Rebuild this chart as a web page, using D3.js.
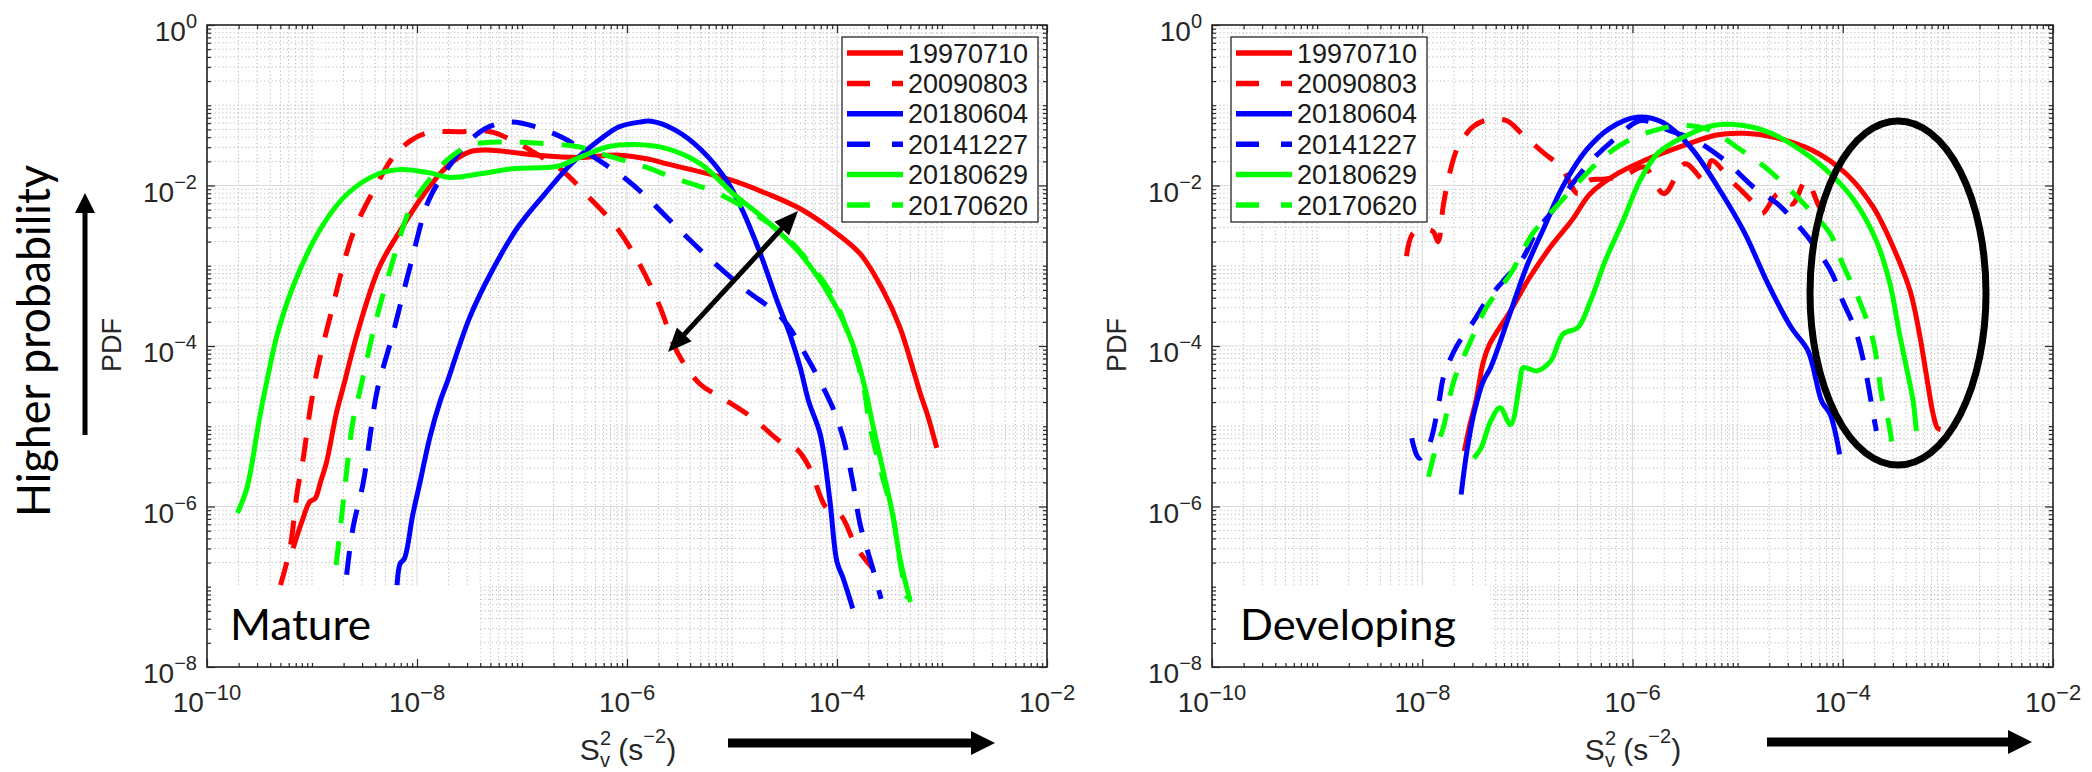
<!DOCTYPE html>
<html><head><meta charset="utf-8">
<script src="https://cdn.jsdelivr.net/npm/d3@7"></script>
<style>body{margin:0;background:#fff}svg{display:block}</style>
</head><body>
<svg id="c" width="2092" height="772"></svg>
<script>
// ---------------- data ----------------
const seriesNames  = ["19970710","20090803","20180604","20141227","20180629","20170620"];
const seriesColors = ["#ff0000","#ff0000","#0000ff","#0000ff","#00ff00","#00ff00"];
const seriesDashed = [false,true,false,true,false,true];
const xTickExps = [-10,-8,-6,-4,-2];
const yTickExps = [0,-2,-4,-6,-8];
const panelLabels = ["Mature","Developing"];
// points are [log10(S_v^2), log10(PDF)]
const mature19970710 = [[-9.18,-6.52],[-9.10,-6.20],[-9.02,-5.94],[-8.97,-5.90],[-8.92,-5.70],[-8.86,-5.44],[-8.77,-4.85],[-8.70,-4.50],[-8.57,-3.85],[-8.36,-3.02],[-8.14,-2.52],[-7.93,-2.10],[-7.72,-1.77],[-7.50,-1.58],[-7.30,-1.56],[-6.87,-1.62],[-6.45,-1.65],[-6.10,-1.62],[-5.80,-1.67],[-5.62,-1.73],[-5.30,-1.83],[-4.99,-1.94],[-4.67,-2.10],[-4.35,-2.29],[-4.04,-2.56],[-3.78,-2.85],[-3.56,-3.31],[-3.40,-3.77],[-3.28,-4.27],[-3.20,-4.62],[-3.14,-4.85],[-3.05,-5.27]];
const mature20090803 = [[-9.30,-6.98],[-9.21,-6.52],[-9.14,-5.81],[-9.08,-5.37],[-9.02,-4.81],[-8.95,-4.30],[-8.83,-3.65],[-8.61,-2.60],[-8.40,-2.03],[-8.23,-1.65],[-8.06,-1.44],[-7.89,-1.34],[-7.60,-1.33],[-7.30,-1.33],[-7.09,-1.44],[-6.87,-1.60],[-6.62,-1.81],[-6.36,-2.15],[-6.10,-2.52],[-5.88,-2.98],[-5.69,-3.50],[-5.52,-4.08],[-5.30,-4.48],[-5.09,-4.65],[-4.80,-4.90],[-4.54,-5.19],[-4.38,-5.29],[-4.26,-5.52],[-4.10,-6.02],[-3.97,-6.10],[-3.81,-6.52],[-3.66,-6.77]];
const mature20180604 = [[-8.19,-6.98],[-8.16,-6.71],[-8.12,-6.65],[-8.04,-6.10],[-7.97,-5.69],[-7.88,-5.15],[-7.78,-4.69],[-7.71,-4.44],[-7.50,-3.65],[-7.30,-3.10],[-7.04,-2.52],[-6.78,-2.10],[-6.53,-1.73],[-6.27,-1.44],[-6.08,-1.27],[-5.88,-1.21],[-5.77,-1.20],[-5.54,-1.31],[-5.29,-1.56],[-5.05,-1.94],[-4.90,-2.31],[-4.73,-2.85],[-4.57,-3.44],[-4.45,-3.85],[-4.35,-4.27],[-4.27,-4.69],[-4.16,-5.10],[-4.07,-5.90],[-4.00,-6.69],[-3.94,-6.90],[-3.85,-7.27]];
const mature20141227 = [[-8.67,-6.85],[-8.61,-6.27],[-8.51,-5.69],[-8.45,-5.15],[-8.38,-4.56],[-8.23,-3.85],[-8.06,-2.98],[-7.89,-2.19],[-7.72,-1.81],[-7.50,-1.44],[-7.30,-1.26],[-7.09,-1.21],[-6.87,-1.27],[-6.62,-1.40],[-6.31,-1.65],[-5.99,-1.94],[-5.81,-2.15],[-5.51,-2.54],[-5.19,-2.94],[-4.88,-3.29],[-4.52,-3.66],[-4.29,-4.13],[-4.10,-4.60],[-4.04,-4.77],[-3.94,-5.15],[-3.85,-5.69],[-3.78,-6.22],[-3.66,-6.77],[-3.58,-7.15]];
const mature20180629 = [[-9.71,-6.08],[-9.62,-5.77],[-9.50,-4.90],[-9.43,-4.44],[-9.33,-3.85],[-9.16,-3.19],[-8.91,-2.52],[-8.66,-2.10],[-8.36,-1.85],[-8.14,-1.80],[-7.89,-1.84],[-7.68,-1.90],[-7.38,-1.85],[-7.09,-1.79],[-6.66,-1.76],[-6.45,-1.65],[-6.19,-1.52],[-5.93,-1.49],[-5.62,-1.54],[-5.30,-1.73],[-4.99,-2.10],[-4.67,-2.44],[-4.35,-2.85],[-4.04,-3.44],[-3.85,-3.98],[-3.72,-4.60],[-3.66,-4.98],[-3.56,-5.56],[-3.47,-6.10],[-3.40,-6.65],[-3.30,-7.19]];
const mature20170620 = [[-8.77,-6.73],[-8.72,-6.15],[-8.67,-5.56],[-8.61,-4.94],[-8.53,-4.48],[-8.40,-3.73],[-8.23,-2.94],[-8.06,-2.27],[-7.89,-1.94],[-7.72,-1.69],[-7.50,-1.50],[-7.30,-1.46],[-7.09,-1.46],[-6.87,-1.47],[-6.45,-1.52],[-6.26,-1.60],[-5.78,-1.79],[-5.57,-1.90],[-5.38,-1.98],[-5.18,-2.07],[-4.85,-2.30],[-4.52,-2.60],[-4.29,-2.92],[-4.04,-3.38],[-3.88,-3.90],[-3.75,-4.48],[-3.69,-4.98],[-3.59,-5.52],[-3.47,-6.10],[-3.40,-6.69],[-3.33,-7.15]];

const developing19970710 = [[-7.60,-5.31],[-7.55,-5.00],[-7.49,-4.69],[-7.42,-4.20],[-7.36,-3.98],[-7.16,-3.56],[-6.98,-3.15],[-6.76,-2.73],[-6.58,-2.44],[-6.40,-2.10],[-6.14,-1.85],[-5.89,-1.69],[-5.55,-1.52],[-5.20,-1.37],[-4.93,-1.35],[-4.65,-1.40],[-4.29,-1.56],[-3.97,-1.85],[-3.71,-2.27],[-3.52,-2.77],[-3.36,-3.31],[-3.27,-3.85],[-3.20,-4.40],[-3.14,-4.85],[-3.10,-5.02],[-3.07,-5.04]];
const developing20090803 = [[-8.15,-2.88],[-8.09,-2.60],[-8.00,-2.55],[-7.90,-2.57],[-7.85,-2.70],[-7.80,-2.25],[-7.74,-1.85],[-7.66,-1.52],[-7.52,-1.27],[-7.40,-1.19],[-7.20,-1.19],[-7.05,-1.36],[-6.84,-1.60],[-6.68,-1.77],[-6.52,-2.10],[-6.42,-1.94],[-6.26,-1.92],[-6.08,-1.88],[-5.89,-1.77],[-5.70,-2.10],[-5.50,-1.73],[-5.31,-1.94],[-5.25,-1.69],[-5.06,-1.94],[-4.87,-2.19],[-4.77,-2.35],[-4.61,-2.10],[-4.48,-2.23],[-4.35,-1.94],[-4.22,-2.27],[-4.12,-2.44]];
const developing20180604 = [[-7.63,-5.85],[-7.58,-5.35],[-7.51,-4.85],[-7.42,-4.44],[-7.35,-4.27],[-7.18,-3.65],[-7.01,-3.02],[-6.84,-2.52],[-6.67,-2.03],[-6.44,-1.56],[-6.22,-1.29],[-5.96,-1.15],[-5.72,-1.21],[-5.45,-1.52],[-5.15,-2.10],[-4.93,-2.60],[-4.71,-3.23],[-4.49,-3.77],[-4.33,-4.06],[-4.20,-4.69],[-4.12,-4.85],[-4.03,-5.35]];
const developing20141227 = [[-8.10,-5.15],[-8.03,-5.40],[-7.94,-5.25],[-7.84,-4.69],[-7.80,-4.40],[-7.68,-4.02],[-7.51,-3.69],[-7.39,-3.44],[-7.23,-3.19],[-7.04,-2.90],[-6.91,-2.56],[-6.78,-2.35],[-6.62,-2.06],[-6.39,-1.69],[-6.15,-1.40],[-5.92,-1.19],[-5.66,-1.31],[-5.40,-1.44],[-5.12,-1.69],[-4.84,-2.03],[-4.62,-2.23],[-4.41,-2.52],[-4.26,-2.77],[-4.10,-3.10],[-4.00,-3.44],[-3.90,-3.73],[-3.84,-3.98],[-3.77,-4.40],[-3.71,-4.85],[-3.68,-5.06]];
const developing20180629 = [[-7.51,-5.40],[-7.44,-5.27],[-7.35,-4.94],[-7.26,-4.77],[-7.16,-4.98],[-7.07,-4.44],[-7.04,-4.27],[-6.91,-4.31],[-6.78,-4.19],[-6.66,-3.85],[-6.52,-3.77],[-6.40,-3.44],[-6.26,-2.94],[-6.09,-2.44],[-5.93,-1.94],[-5.76,-1.60],[-5.52,-1.40],[-5.22,-1.25],[-4.96,-1.25],[-4.68,-1.35],[-4.40,-1.56],[-4.12,-1.85],[-3.89,-2.19],[-3.68,-2.69],[-3.55,-3.23],[-3.46,-3.85],[-3.36,-4.48],[-3.33,-4.69],[-3.30,-5.06]];
const developing20170620 = [[-7.94,-5.63],[-7.87,-5.27],[-7.80,-5.02],[-7.70,-4.44],[-7.54,-3.94],[-7.39,-3.52],[-7.16,-3.10],[-6.95,-2.60],[-6.73,-2.27],[-6.50,-1.94],[-6.28,-1.65],[-6.04,-1.44],[-5.78,-1.31],[-5.52,-1.25],[-5.26,-1.31],[-5.01,-1.52],[-4.74,-1.77],[-4.53,-2.02],[-4.31,-2.31],[-4.12,-2.60],[-4.00,-2.98],[-3.84,-3.44],[-3.71,-3.94],[-3.62,-4.69],[-3.58,-4.85],[-3.52,-5.31]];

const panelSeries = [
  [mature19970710, mature20090803, mature20180604, mature20141227, mature20180629, mature20170620],
  [developing19970710, developing20090803, developing20180604, developing20141227, developing20180629, developing20170620]
];

// ---------------- layout ----------------
const svg = d3.select("#c");
const yTop = 25, yBot = 667;
const panels = [
  {x0:207, x1:1047, legendX:842, pdfX:121, boxR:480, labelX:230, labelLen:141, sLabel:628},
  {x0:1212, x1:2053, legendX:1231, pdfX:1126, boxR:1490, labelX:1240, labelLen:216, sLabel:1633}
];
const axisColor = "#262626";
const tickFont = "'Liberation Sans', Arial, Helvetica, sans-serif";
const calloutFont = "Lato, 'Open Sans', sans-serif";

const defs = svg.append("defs");

function minorValues(e0, e1, majors) {
  const out = [];
  for (let n = e0; n < e1; n++) for (let k = 1; k <= 9; k++) {
    if (k === 1 && majors.includes(n)) continue;
    out.push(k * Math.pow(10, n));
  }
  return out;
}

panels.forEach((p, pi) => {
  const x = d3.scaleLog().domain([1e-10, 1e-2]).range([p.x0, p.x1]);
  const y = d3.scaleLog().domain([1e-8, 1]).range([yBot, yTop]);
  const g = svg.append("g");
  const xMaj = xTickExps.map(e => Math.pow(10, e));
  const yMaj = yTickExps.map(e => Math.pow(10, e));
  const xMin = minorValues(-10, -2, xTickExps);
  const yMin = minorValues(-8, 0, yTickExps);

  // minor grid
  g.append("g").selectAll("line").data(xMin).join("line")
    .attr("x1", d => x(d)).attr("x2", d => x(d)).attr("y1", yTop).attr("y2", yBot)
    .attr("stroke", "#b8b8b8").attr("stroke-width", 1).attr("stroke-dasharray", "1.2,2.6");
  g.append("g").selectAll("line").data(yMin).join("line")
    .attr("y1", d => y(d)).attr("y2", d => y(d)).attr("x1", p.x0).attr("x2", p.x1)
    .attr("stroke", "#b8b8b8").attr("stroke-width", 1).attr("stroke-dasharray", "1.2,2.6");
  // major grid
  g.append("g").selectAll("line").data(xMaj).join("line")
    .attr("x1", d => x(d)).attr("x2", d => x(d)).attr("y1", yTop).attr("y2", yBot)
    .attr("stroke", "#dcdcdc").attr("stroke-width", 1.2);
  g.append("g").selectAll("line").data(yMaj).join("line")
    .attr("y1", d => y(d)).attr("y2", d => y(d)).attr("x1", p.x0).attr("x2", p.x1)
    .attr("stroke", "#dcdcdc").attr("stroke-width", 1.2);

  // white label box
  g.append("rect").attr("x", p.x0 + 1).attr("y", 585).attr("width", p.boxR - p.x0 - 1).attr("height", yBot - 585 - 1)
    .attr("fill", "#fff");

  // curves
  const clipId = "clip" + pi;
  defs.append("clipPath").attr("id", clipId).append("rect")
    .attr("x", p.x0).attr("y", yTop).attr("width", p.x1 - p.x0).attr("height", yBot - yTop);
  const line = d3.line().x(d => x(Math.pow(10, d[0]))).y(d => y(Math.pow(10, d[1])))
    .curve(d3.curveCatmullRom.alpha(0.5));
  const cg = g.append("g").attr("clip-path", `url(#${clipId})`);
  panelSeries[pi].forEach((s, i) => {
    cg.append("path").attr("d", line(s)).attr("fill", "none")
      .attr("stroke", seriesColors[i]).attr("stroke-width", 5)
      .attr("stroke-linejoin", "round")
      .attr("stroke-dasharray", seriesDashed[i] ? "24,18" : null);
  });

  // axes: ticks inward on all four sides
  const mk = (axisFn, scale, vals, size, tr) => {
    const a = g.append("g").attr("transform", tr)
      .call(axisFn(scale).tickValues(vals).tickSize(size).tickFormat(""));
    a.select(".domain").remove();
    a.selectAll("line").attr("stroke", axisColor).attr("stroke-width", 1.2);
  };
  mk(d3.axisBottom, x, xMaj, -8, `translate(0,${yBot})`);
  mk(d3.axisBottom, x, xMin, -4, `translate(0,${yBot})`);
  mk(d3.axisTop, x, xMaj, -8, `translate(0,${yTop})`);
  mk(d3.axisTop, x, xMin, -4, `translate(0,${yTop})`);
  mk(d3.axisLeft, y, yMaj, -8, `translate(${p.x0},0)`);
  mk(d3.axisLeft, y, yMin, -4, `translate(${p.x0},0)`);
  mk(d3.axisRight, y, yMaj, -8, `translate(${p.x1},0)`);
  mk(d3.axisRight, y, yMin, -4, `translate(${p.x1},0)`);
  g.append("rect").attr("x", p.x0).attr("y", yTop).attr("width", p.x1 - p.x0).attr("height", yBot - yTop)
    .attr("fill", "none").attr("stroke", axisColor).attr("stroke-width", 1.6);

  // tick labels
  const fmtExp = e => (e < 0 ? "\u2212" + (-e) : String(e));
  yTickExps.forEach(e => {
    const t = g.append("text").attr("x", p.x0 - 10).attr("y", y(Math.pow(10, e)) + 16)
      .attr("text-anchor", "end").attr("font-family", tickFont).attr("font-size", 28).attr("fill", axisColor);
    t.append("tspan").text("10");
    t.append("tspan").attr("font-size", 20).attr("dy", -13).text(fmtExp(e));
  });
  xTickExps.forEach(e => {
    const t = g.append("text").attr("x", x(Math.pow(10, e))).attr("y", 712)
      .attr("text-anchor", "middle").attr("font-family", tickFont).attr("font-size", 28).attr("fill", axisColor);
    t.append("tspan").text("10");
    t.append("tspan").attr("font-size", 22).attr("dy", -12).text(fmtExp(e));
  });

  // axis titles
  g.append("text").attr("transform", `translate(${p.pdfX},345) rotate(-90)`)
    .attr("text-anchor", "middle").attr("font-family", tickFont).attr("font-size", 27)
    .attr("fill", axisColor).text("PDF");
  const xl = g.append("text").attr("x", 0).attr("y", 760)
    .attr("font-family", tickFont).attr("font-size", 30).attr("fill", axisColor);
  xl.append("tspan").text("S");
  xl.append("tspan").attr("font-size", 20).attr("dy", -15).text("2");
  xl.append("tspan").attr("font-size", 20).attr("dx", -11).attr("dy", 22).text("v");
  xl.append("tspan").attr("dy", -7).text(" (s");
  xl.append("tspan").attr("font-size", 20).attr("dy", -17).text("\u22122");
  xl.append("tspan").attr("dy", 17).text(")");
  const bb = xl.node().getBBox();
  xl.attr("x", p.sLabel - bb.width / 2);

  // panel label
  g.append("text").attr("x", p.labelX).attr("y", 640).attr("font-family", calloutFont)
    .attr("font-size", 42).attr("fill", "#000").attr("textLength", p.labelLen)
    .attr("lengthAdjust", "spacingAndGlyphs").text(panelLabels[pi]);

  // legend
  const lg = g.append("g");
  lg.append("rect").attr("x", p.legendX).attr("y", 37).attr("width", 196).attr("height", 185)
    .attr("fill", "#fff").attr("stroke", axisColor).attr("stroke-width", 1.3);
  seriesNames.forEach((nm, i) => {
    const cy = 53 + i * 30.4;
    lg.append("line").attr("x1", p.legendX + 5).attr("x2", p.legendX + 61).attr("y1", cy).attr("y2", cy)
      .attr("stroke", seriesColors[i]).attr("stroke-width", 5.5)
      .attr("stroke-dasharray", seriesDashed[i] ? "23,22" : null);
    lg.append("text").attr("x", p.legendX + 66).attr("y", cy + 9.5)
      .attr("font-family", tickFont).attr("font-size", 27).attr("fill", "#1a1a1a").text(nm);
  });
});

// ---------------- annotations ----------------
function arrow(x1, y1, x2, y2, w, hl, hw, both) {
  const dx = x2 - x1, dy = y2 - y1, L = Math.hypot(dx, dy);
  const ux = dx / L, uy = dy / L, nx = -uy, ny = ux;
  const head = (tx, ty, sx) => {
    const bx = tx - sx * ux * hl, by = ty - sx * uy * hl;
    svg.append("polygon").attr("points",
      [[tx, ty], [bx + nx * hw / 2, by + ny * hw / 2], [bx - nx * hw / 2, by - ny * hw / 2]].map(q => q.join(",")).join(" "))
      .attr("fill", "#000");
  };
  const sx1 = both ? x1 + ux * hl * 0.9 : x1, sy1 = both ? y1 + uy * hl * 0.9 : y1;
  svg.append("line").attr("x1", sx1).attr("y1", sy1)
    .attr("x2", x2 - ux * hl * 0.9).attr("y2", y2 - uy * hl * 0.9)
    .attr("stroke", "#000").attr("stroke-width", w);
  head(x2, y2, 1);
  if (both) head(x1, y1, -1);
}
arrow(85, 435, 85, 193, 5, 20, 20, false);
arrow(728, 743, 995, 743, 9, 24, 24, false);
arrow(1767, 742, 2032, 742, 9, 24, 24, false);
arrow(668, 352, 798, 211, 5, 24, 20, true);

svg.append("ellipse").attr("cx", 1898).attr("cy", 293).attr("rx", 88).attr("ry", 172)
  .attr("fill", "none").attr("stroke", "#000").attr("stroke-width", 7);

svg.append("text").attr("transform", "translate(50,517) rotate(-90)")
  .attr("font-family", calloutFont).attr("font-size", 46).attr("fill", "#000")
  .attr("textLength", 352).attr("lengthAdjust", "spacingAndGlyphs").text("Higher probability");
</script>
</body></html>
